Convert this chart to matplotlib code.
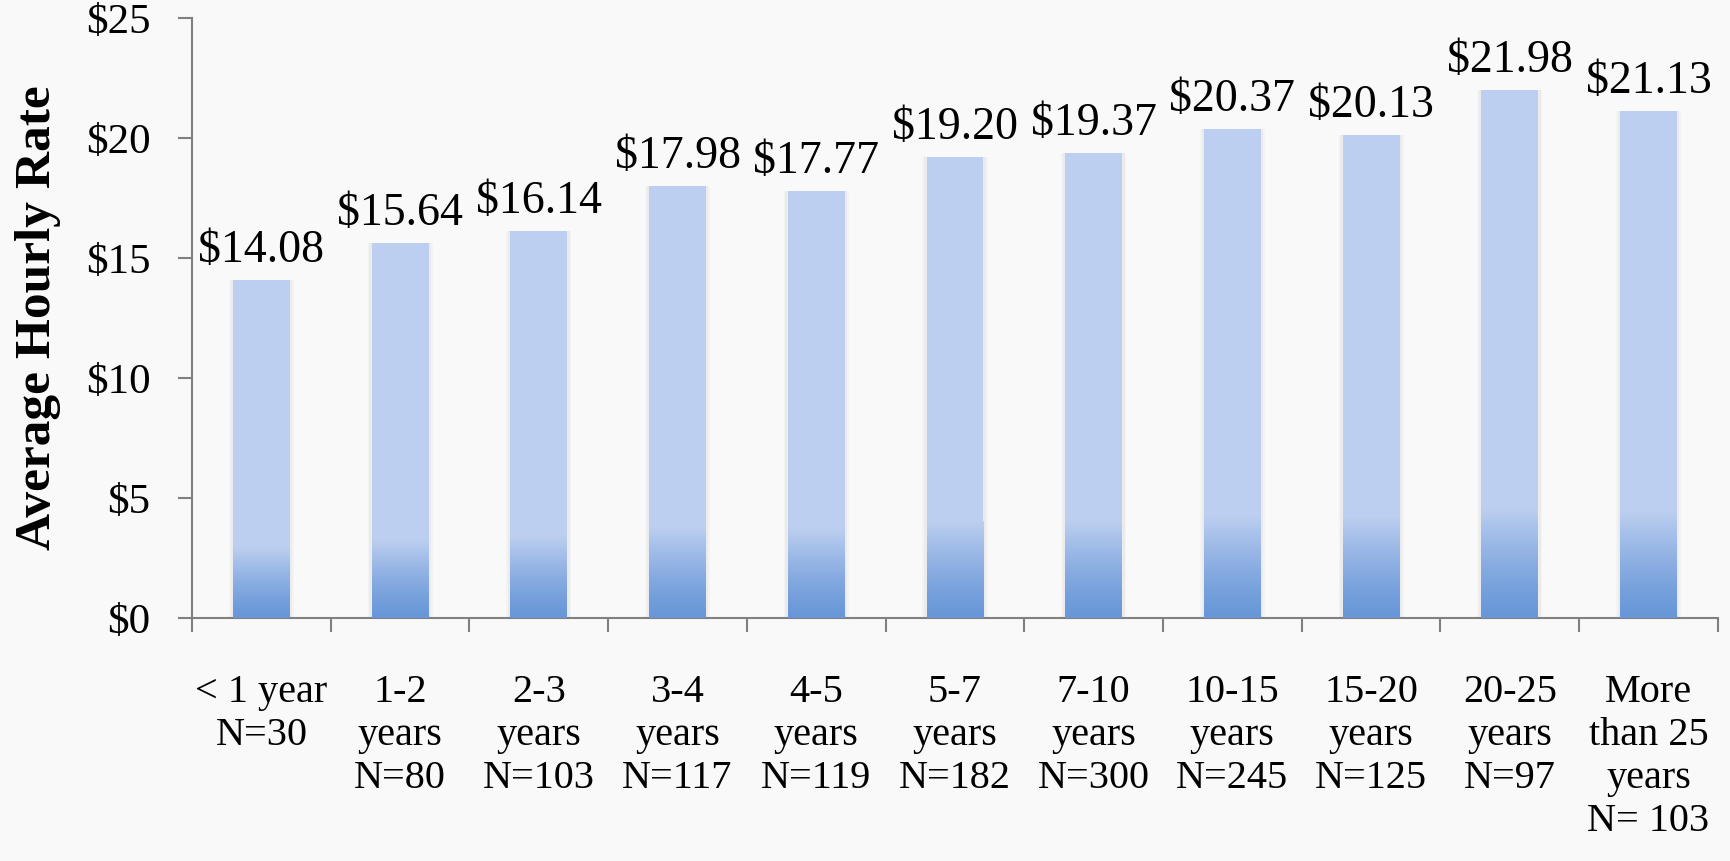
import matplotlib.pyplot as plt
import numpy as np
from matplotlib.colors import to_rgb

categories = ["< 1 year\nN=30", "1-2\nyears\nN=80", "2-3\nyears\nN=103",
              "3-4\nyears\nN=117", "4-5\nyears\nN=119", "5-7\nyears\nN=182",
              "7-10\nyears\nN=300", "10-15\nyears\nN=245", "15-20\nyears\nN=125",
              "20-25\nyears\nN=97", "More\nthan 25\nyears\nN= 103"]
values = [14.08, 15.64, 16.14, 17.98, 17.77, 19.20, 19.37, 20.37, 20.13, 21.98, 21.13]
yticks = [0, 5, 10, 15, 20, 25]

light = "#bdcff0"
dark = "#6897d8"
bg = "#f9f9f9"

plt.rcParams['font.family'] = ['Liberation Serif', 'DejaVu Serif']

fig = plt.figure(figsize=(17.3, 8.61), dpi=100, facecolor=bg)
ax = fig.add_axes([0.111, 0.2822, 0.882, 0.697])
ax.set_facecolor(bg)

x = np.arange(len(values)) + 0.5
width = 0.41
# soft shadow
for k, a in [(0.06, 0.05), (0.035, 0.07)]:
  ax.bar(x, values, width + k, color="#888888", alpha=a, zorder=1, linewidth=0)
ax.bar(x, values, width, color=light, zorder=2, linewidth=0)

# darker gradient at the bottom of each bar
n = 100
c0 = np.array(to_rgb(dark))
c1 = np.array(to_rgb(light))
t = np.linspace(0, 1, n) ** 1.3
grad = (c0[None, :] * (1 - t[:, None]) + c1[None, :] * t[:, None])[:, None, :]
for xi, v in zip(x, values):
  ax.imshow(grad, extent=(xi - width / 2, xi + width / 2, 0, 0.21 * v),
            origin="lower", aspect="auto", zorder=3, interpolation="bilinear")

for xi, v in zip(x, values):
  ax.annotate(f"${v:.2f}", (xi, v), textcoords="offset points", xytext=(0, 13),
              ha="center", va="baseline", fontsize=33)

ax.set_xlim(0, len(values))
ax.set_ylim(0, 25)
ax.set_yticks(yticks)
ax.set_yticklabels([f"${v}" for v in yticks], fontsize=31)
ax.set_xticks(x)
ax.set_xticklabels(categories, fontsize=29, linespacing=1.22, va="top")
ax.set_xticks(np.arange(len(values) + 1), minor=True)
ax.tick_params(axis="x", which="major", length=0, pad=40)
ax.tick_params(axis="x", which="minor", length=10, width=1.5, color="#808080", direction="out")
ax.tick_params(axis="y", length=10, width=1.5, color="#808080", pad=20)

for s in ["top", "right"]:
  ax.spines[s].set_visible(False)
for s in ["left", "bottom"]:
  ax.spines[s].set_color("#808080")
  ax.spines[s].set_linewidth(1.5)

ax.set_ylabel("Average Hourly Rate", fontsize=37, fontweight="bold")
ax.yaxis.set_label_coords(-0.086, 0.5)

plt.savefig("out.png", dpi=100, facecolor=bg)
